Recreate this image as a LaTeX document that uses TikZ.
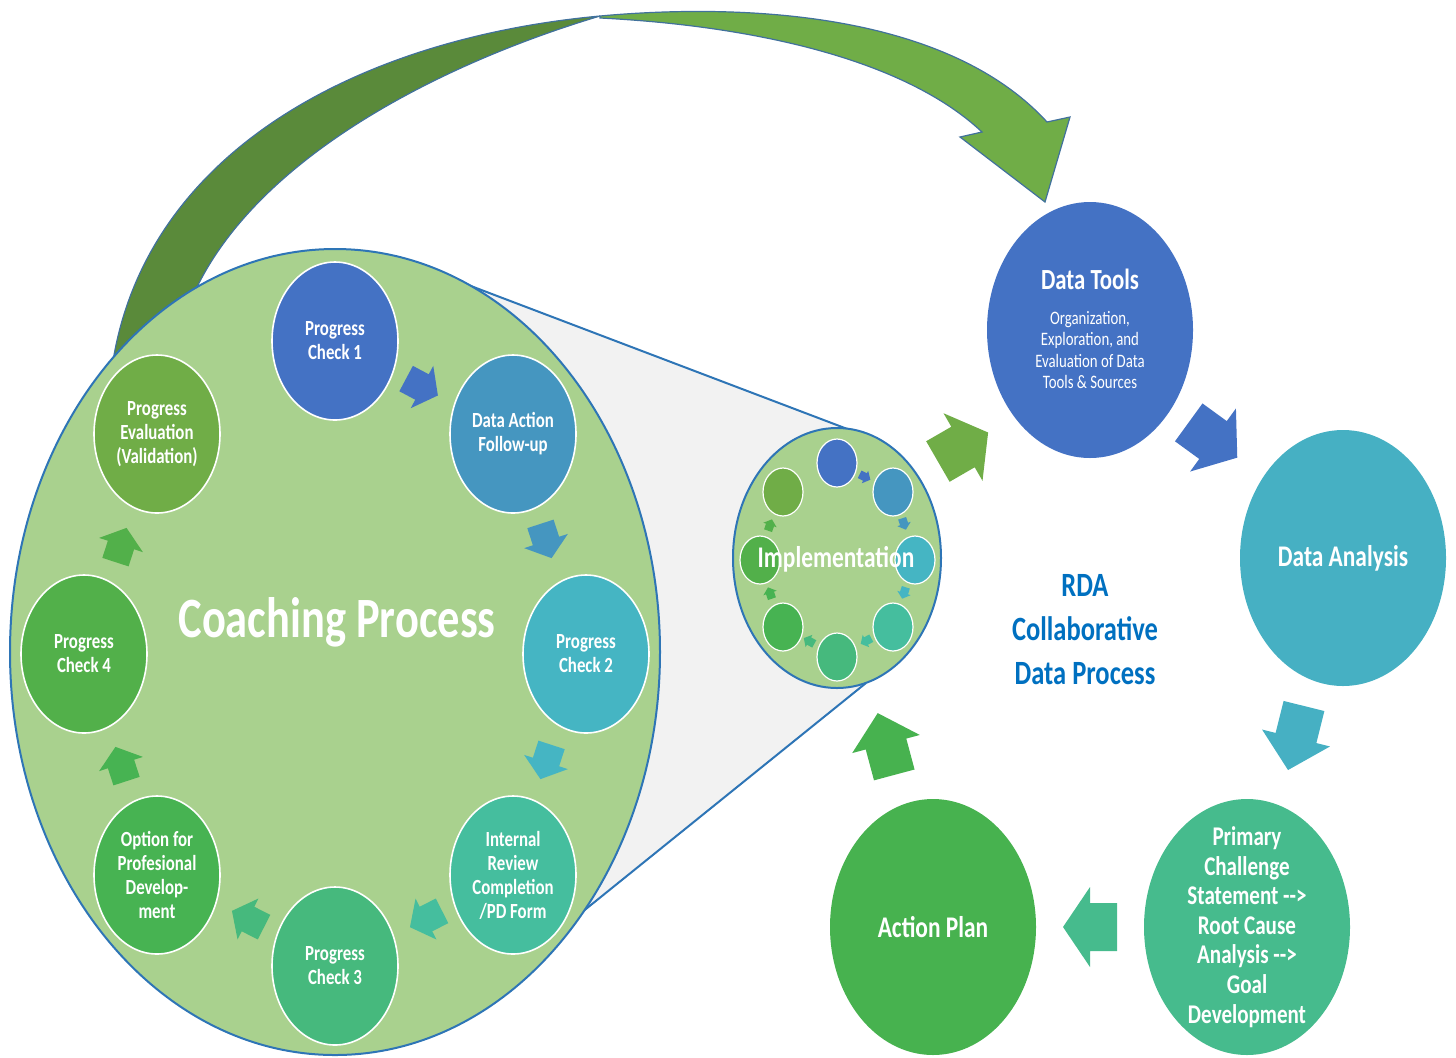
\documentclass[tikz,border=0pt]{standalone}
\usepackage{fontspec}
\setmainfont{Carlito}[FakeStretch=0.78]
\usetikzlibrary{shapes.geometric}
\definecolor{cA}{HTML}{4472C4}
\definecolor{cB}{HTML}{4596C0}
\definecolor{cC}{HTML}{45B5C3}
\definecolor{cD}{HTML}{45BE9E}
\definecolor{cE}{HTML}{46B97D}
\definecolor{cF}{HTML}{47B352}
\definecolor{cG}{HTML}{52B04A}
\definecolor{cH}{HTML}{70AD47}
\definecolor{daC}{HTML}{46B0C3}
\definecolor{prC}{HTML}{46BB8D}
\definecolor{apC}{HTML}{47B24F}
\definecolor{lgreen}{HTML}{A9D18E}
\definecolor{lineblue}{HTML}{2E75B6}
\definecolor{arrline}{HTML}{41719C}
\definecolor{arrdark}{HTML}{5A8A3A}
\definecolor{conegray}{HTML}{F2F2F2}
\definecolor{rdablue}{HTML}{0070C0}
\begin{document}
\begin{tikzpicture}[x=0.5pt,y=-0.5pt,
  ring/.style={ellipse, draw=white, line width=0.8pt, minimum width=63pt, minimum height=79pt, inner sep=0pt},
  ringtxt/.style={text=white, font=\fontsize{10.8}{12}\selectfont\bfseries, align=center},
  mini/.style={ellipse, draw=white, line width=0.6pt, minimum width=20pt, minimum height=24pt, inner sep=0pt},
  big/.style={ellipse, minimum width=103pt, minimum height=128pt, inner sep=0pt},
  bigtxt/.style={text=white, font=\fontsize{15}{18}\selectfont\bfseries, align=center},
  blockarr/.pic={\fill[#1] (-1,-0.6) -- (0,-0.6) -- (0,-1) -- (1,0) -- (0,1) -- (0,0.6) -- (-1,0.6) -- cycle;}
]
\useasboundingbox (0,0) rectangle (1456,1057);

% big curved arrow
\filldraw[fill=arrdark, draw=arrline, line width=0.6pt]
  (108,420) .. controls (110,170) and (340,40) .. (600,16)
  .. controls (420,70) and (215,180) .. (178,340) -- cycle;
\filldraw[fill=cH, draw=arrline, line width=0.6pt]
  (600,16) .. controls (720,5) and (940,5) .. (1047,122)
  -- (1070,117) -- (1045,202) -- (960,137) -- (982,132)
  .. controls (900,55) and (740,25) .. (600,18) -- cycle;

% cone
\coordinate (t1) at (463,283);
\coordinate (t2) at (850,430);
\coordinate (b1) at (545,942);
\coordinate (b2) at (866,683);
\fill[conegray] (t1) -- (t2) -- (b2) -- (b1) -- cycle;
\draw[lineblue, line width=1pt] (t1) -- (t2);
\draw[lineblue, line width=1pt] (b1) -- (b2);

% coaching circle
\node[ellipse, draw=lineblue, line width=1pt, fill=lgreen, minimum width=325pt, minimum height=403pt, inner sep=0pt] (coach) at (335,652) {};
\node[text=white, font=\fontsize{28.5}{34}\selectfont\bfseries] (coachT) at (337,622) {Coaching Process};

\node[ring, fill=cA, label={[ringtxt]center:Progress\\Check 1}] (pc1) at (335,341) {};
\node[ring, fill=cB, label={[ringtxt]center:Data Action\\Follow-up}] (dafu) at (513,434) {};
\node[ring, fill=cC, label={[ringtxt]center:Progress\\Check 2}] (pc2) at (586,654) {};
\node[ring, fill=cD, label={[ringtxt]center:Internal\\Review\\Completion\\/PD Form}] (irc) at (513,875) {};
\node[ring, fill=cE, label={[ringtxt]center:Progress\\Check 3}] (pc3) at (335,966) {};
\node[ring, fill=cF, label={[ringtxt]center:Option for\\Profesional\\Develop-\\ment}] (opd) at (157,875) {};
\node[ring, fill=cG, label={[ringtxt]center:Progress\\Check 4}] (pc4) at (84,654) {};
\node[ring, fill=cH, label={[ringtxt]center:Progress\\Evaluation\\(Validation)}] (pev) at (157,434) {};

\pic[rotate=-28, xscale=18, yscale=24] at (422,387) {blockarr=cA};
\pic[rotate=-72, xscale=18, yscale=23] at (546,541) {blockarr=cB};
\pic[rotate=-108, xscale=18, yscale=23] at (546,762) {blockarr=cC};
\pic[rotate=-153, xscale=18, yscale=23] at (426,919) {blockarr=cD};
\pic[rotate=153, xscale=18, yscale=23] at (248,919) {blockarr=cE};
\pic[rotate=108, xscale=18, yscale=23] at (121,764) {blockarr=cF};
\pic[rotate=72, xscale=18, yscale=23] at (121,545) {blockarr=cG};

% implementation circle
\node[ellipse, draw=lineblue, line width=1pt, fill=lgreen, minimum width=104pt, minimum height=130pt, inner sep=0pt] (impl) at (837,558) {};
\node[mini, fill=cA] (m1) at (837,463) {};
\node[mini, fill=cB] (m2) at (893,492) {};
\node[mini, fill=cC] (m3) at (915,560) {};
\node[mini, fill=cD] (m4) at (893,627) {};
\node[mini, fill=cE] (m5) at (837,657) {};
\node[mini, fill=cF] (m6) at (783,627) {};
\node[mini, fill=cG] (m7) at (760,560) {};
\node[mini, fill=cH] (m8) at (783,492) {};
\pic[rotate=-27, xscale=6, yscale=7] at (865,477) {blockarr=cA};
\pic[rotate=-72, xscale=6, yscale=7] at (904,524) {blockarr=cB};
\pic[rotate=-108, xscale=6, yscale=7] at (904,593) {blockarr=cC};
\pic[rotate=-152, xscale=6, yscale=7] at (866,641) {blockarr=cD};
\pic[rotate=151, xscale=6, yscale=7] at (809,641) {blockarr=cE};
\pic[rotate=109, xscale=6, yscale=7] at (770,593) {blockarr=cF};
\pic[rotate=71, xscale=6, yscale=7] at (770,525) {blockarr=cG};
\node[text=white, font=\fontsize{15}{18}\selectfont\bfseries] (implT) at (836,559) {Implementation};

% outer cycle
\node[big, fill=cA] (dt) at (1090,330) {};
\node[text=white, font=\fontsize{14.6}{18}\selectfont\bfseries] (dtT) at (1090,279) {Data Tools};
\node[text=white, font=\fontsize{9.5}{10.6}\selectfont, align=center] (dtS) at (1090,350) {Organization,\\Exploration, and\\Evaluation of Data\\Tools \& Sources};
\node[big, fill=daC, label={[bigtxt]center:Data Analysis}] (da) at (1343,558) {};
\node[big, fill=prC, label={[text=white, font=\fontsize{13.5}{14.8}\selectfont\bfseries, align=center]center:Primary\\Challenge\\Statement -{}->\\Root Cause\\Analysis -{}->\\Goal\\Development}] (pcs) at (1247,927) {};
\node[big, fill=apC, label={[bigtxt]center:Action Plan}] (ap) at (933,927) {};

\node[text=rdablue, font=\fontsize{17}{22}\selectfont\bfseries, align=center] (rda) at (1085,630) {RDA\\Collaborative\\Data Process};

\pic[rotate=30, xscale=29, yscale=39] at (963,447) {blockarr=cH};
\pic[rotate=-36, xscale=30, yscale=39] at (1213,440) {blockarr=cA};
\pic[rotate=-104, xscale=33, yscale=35] at (1296,738) {blockarr=daC};
\pic[rotate=180, xscale=27, yscale=40] at (1090,927) {blockarr=prC};
\pic[rotate=105, xscale=32, yscale=35] at (886,744) {blockarr=apC};
\end{tikzpicture}
\end{document}
